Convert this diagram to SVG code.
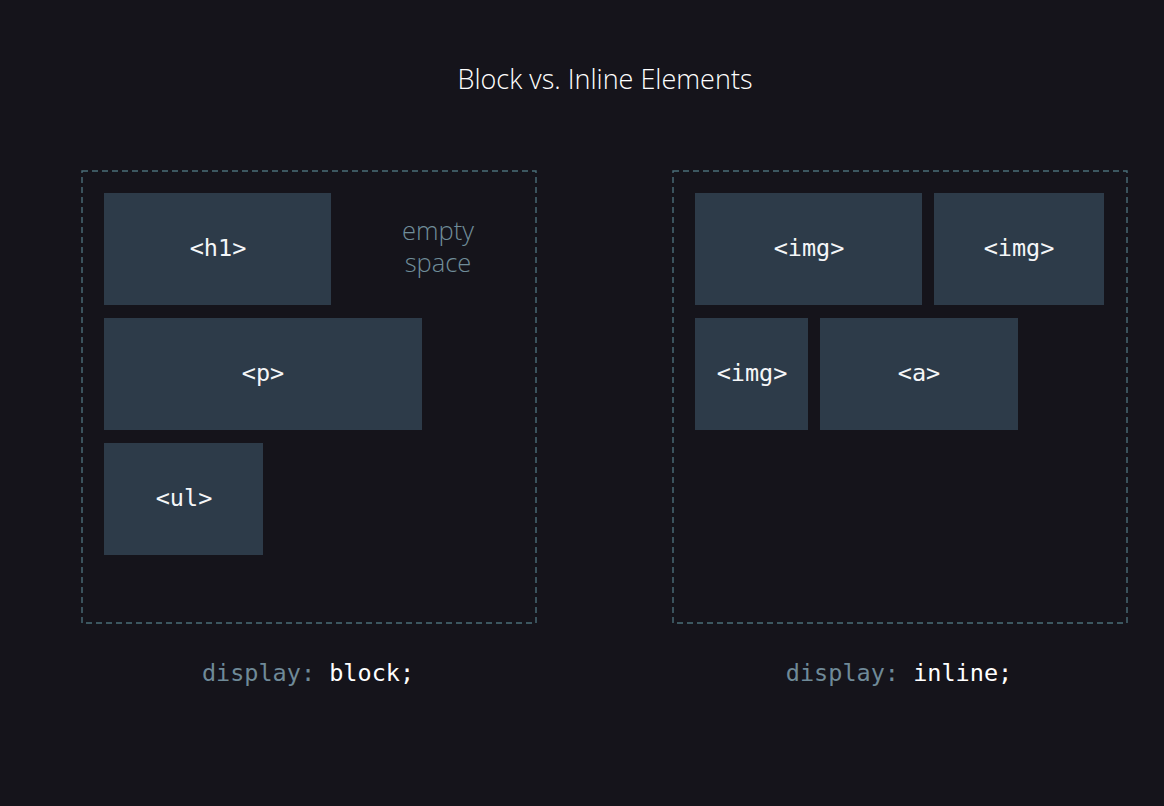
<svg xmlns="http://www.w3.org/2000/svg" width="1164" height="806" viewBox="0 0 1164 806">
<style>
.bg{fill:#15141b}
.frame{fill:none;stroke:#4a6d78;stroke-width:1.4;stroke-dasharray:6 4}
.box{fill:#2d3b49}
.tag{font-family:"DejaVu Sans Mono",monospace;font-size:23.5px;fill:#f4f6f8;text-anchor:middle}
.code{font-family:"DejaVu Sans Mono",monospace;font-size:23.5px;text-anchor:middle}
.key{fill:#6f8a98}
.val{fill:#ffffff}
.title{font-family:"Open Sans",sans-serif;font-weight:300;font-size:27px;fill:#ffffff;text-anchor:middle}
.note{font-family:"Open Sans",sans-serif;font-weight:300;font-size:25.5px;fill:#708d99;text-anchor:middle}
</style>
<rect class="bg" x="0" y="0" width="1164" height="806"/>
<text class="title" x="605" y="89">Block vs. Inline Elements</text>
<g id="block-container">
<rect class="frame" x="82" y="171" width="454" height="452"/>
</g>
<g id="inline-container">
<rect class="frame" x="673" y="171" width="454" height="452"/>
</g>
<g id="h1"><rect class="box" x="104" y="193" width="227" height="112"/><text class="tag" x="218" y="256">&lt;h1&gt;</text></g>
<g id="empty-space"><text class="note" x="438" y="240">empty<tspan x="438" dy="32">space</tspan></text></g>
<g id="p"><rect class="box" x="104" y="318" width="318" height="112"/><text class="tag" x="263" y="381">&lt;p&gt;</text></g>
<g id="ul"><rect class="box" x="104" y="443" width="159" height="112"/><text class="tag" x="184" y="506">&lt;ul&gt;</text></g>
<g id="img1"><rect class="box" x="695" y="193" width="227" height="112"/><text class="tag" x="809" y="256">&lt;img&gt;</text></g>
<g id="img2"><rect class="box" x="934" y="193" width="170" height="112"/><text class="tag" x="1019" y="256">&lt;img&gt;</text></g>
<g id="img3"><rect class="box" x="695" y="318" width="113" height="112"/><text class="tag" x="752" y="381">&lt;img&gt;</text></g>
<g id="a"><rect class="box" x="820" y="318" width="198" height="112"/><text class="tag" x="919" y="381">&lt;a&gt;</text></g>
<g id="connectors"></g>
<text class="code" x="308" y="681"><tspan class="key">display:</tspan><tspan class="val"> block;</tspan></text>
<text class="code" x="899" y="681"><tspan class="key">display:</tspan><tspan class="val"> inline;</tspan></text>
</svg>
